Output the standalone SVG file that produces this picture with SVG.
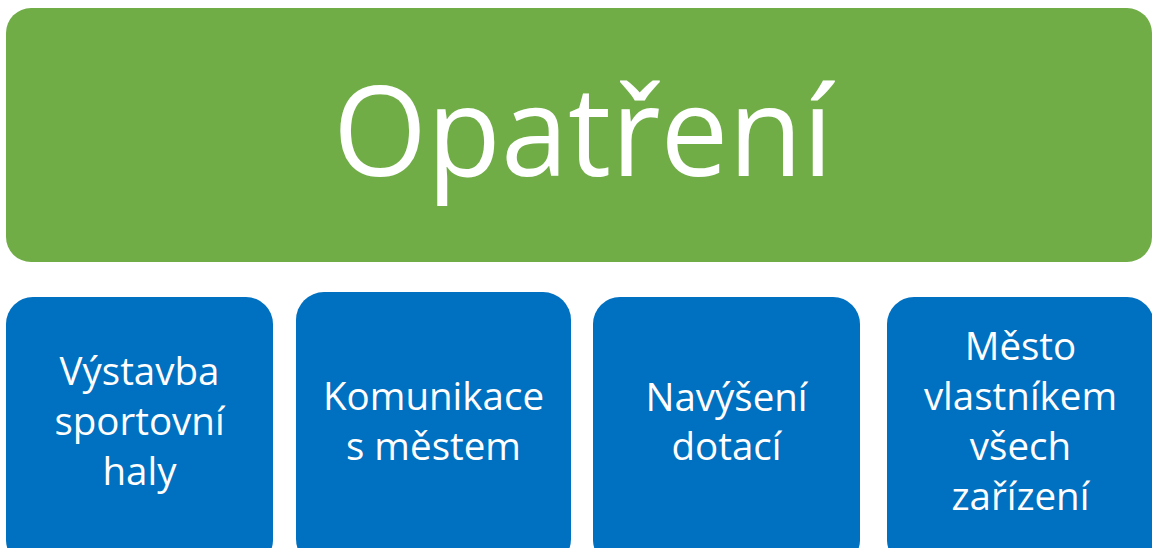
<svg xmlns="http://www.w3.org/2000/svg" width="1152" height="548" viewBox="0 0 1152 548">
<style>
.title{font-family:"Open Sans","Noto Sans","Liberation Sans",sans-serif;font-size:124px;fill:#fff;text-anchor:middle}
.lbl{font-family:"Open Sans","Noto Sans","Liberation Sans",sans-serif;font-size:38.5px;fill:#fff;text-anchor:middle}
.green{fill:#70AD47}
.blue{fill:#0070C0}
</style>
<g id="connectors"></g>
<g id="node-opatreni">
<rect class="green" x="6" y="8" width="1146" height="254" rx="25" ry="25"/>
<text class="title" x="583" y="176" textLength="500" lengthAdjust="spacingAndGlyphs">Opatření</text>
</g>
<g id="node-vystavba">
<rect class="blue" x="6" y="297" width="267" height="270" rx="27" ry="27"/>
<text class="lbl" x="139.5" y="385">Výstavba</text>
<text class="lbl" x="139.5" y="435">sportovní</text>
<text class="lbl" x="139.5" y="485">haly</text>
</g>
<g id="node-komunikace">
<rect class="blue" x="296" y="292" width="275" height="275" rx="28" ry="28"/>
<text class="lbl" x="433.5" y="410">Komunikace</text>
<text class="lbl" x="433.5" y="460">s městem</text>
</g>
<g id="node-navyseni">
<rect class="blue" x="593" y="297" width="267" height="270" rx="27" ry="27"/>
<text class="lbl" x="726.5" y="411">Navýšení</text>
<text class="lbl" x="726.5" y="460">dotací</text>
</g>
<g id="node-mesto">
<rect class="blue" x="887" y="297" width="267" height="270" rx="27" ry="27"/>
<text class="lbl" x="1020.5" y="360">Město</text>
<text class="lbl" x="1020.5" y="410">vlastníkem</text>
<text class="lbl" x="1020.5" y="460">všech</text>
<text class="lbl" x="1020.5" y="510">zařízení</text>
</g>
</svg>
